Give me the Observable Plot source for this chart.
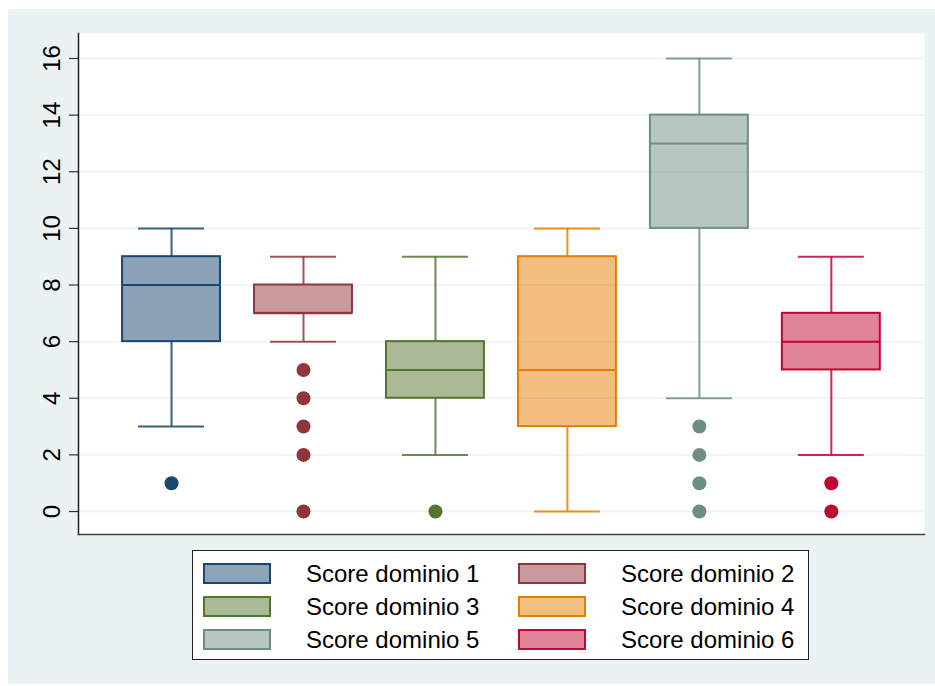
<!DOCTYPE html>
<html>
<head>
<meta charset="utf-8">
<script src="https://cdn.jsdelivr.net/npm/d3@7"></script>
<script src="https://cdn.jsdelivr.net/npm/@observablehq/plot@0.6"></script>
<style>
  body { margin: 0; background: #ffffff; font-family: "Liberation Sans", Arial, sans-serif; }
  #chart { position: absolute; left: 8px; top: 9px; width: 927px; height: 675px; background: #eaf2f3; overflow: hidden; }
  #plot { position: absolute; left: 0; top: 0; }
  #legend { position: absolute; left: 184px; top: 541px; width: 617px; height: 110px; background: #fff;
            border: 1px solid #222; box-sizing: border-box; padding: 6px 0 0 10px;
            display: grid; grid-template-columns: 315px 290px; grid-auto-rows: 33px; }
  .item { display: flex; align-items: center; font-size: 24px; color: #000; }
  .sw { width: 68px; height: 21px; box-sizing: border-box; border: 2px solid; margin-right: 35px; }
</style>
</head>
<body>
<div id="chart"><div id="plot"></div><div id="legend"></div></div>
<script>
const domains = ["Score dominio 1", "Score dominio 2", "Score dominio 3", "Score dominio 4", "Score dominio 5", "Score dominio 6"];
const lowerWhisker = [3, 6, 2, 0, 4, 2];
const q1 = [6, 7, 4, 3, 10, 5];
const median = [8, 7, 5, 5, 13, 6];
const q3 = [9, 8, 6, 9, 14, 7];
const upperWhisker = [10, 9, 9, 10, 16, 9];
const outliers = [[1], [5, 4, 3, 2, 0], [0], [], [3, 2, 1, 0], [1, 0]];
const colors = ["#1a476f", "#90353b", "#55752f", "#e37e00", "#6e8e84", "#c10534"];
const yTicks = [0, 2, 4, 6, 8, 10, 12, 14, 16];

const boxHalf = 0.371, capHalf = 0.25;
const rows = domains.map((d, i) => ({
  name: d, pos: i + 1, lo: lowerWhisker[i], q1: q1[i], med: median[i], q3: q3[i], hi: upperWhisker[i], color: colors[i]
}));
const outRows = outliers.flatMap((arr, i) => arr.map(v => ({pos: i + 1, v, color: colors[i]})));

const plot = Plot.plot({
  width: 927,
  height: 540,
  marginLeft: 70,
  marginTop: 24,
  marginRight: 11,
  marginBottom: 15,
  style: {background: "transparent", fontFamily: "'Liberation Sans', Arial, sans-serif", overflow: "visible"},
  x: {domain: [0.295, 6.706], axis: null},
  y: {domain: [-0.812, 16.883], axis: null},
  marks: [
    Plot.frame({fill: "white", stroke: null}),
    Plot.ruleY(yTicks, {stroke: "#eaf2f3", strokeWidth: 1.5}),
    // whiskers
    Plot.ruleX(rows, {x: "pos", y1: "lo", y2: "q1", stroke: "color", strokeWidth: 2, strokeOpacity: 0.85}),
    Plot.ruleX(rows, {x: "pos", y1: "q3", y2: "hi", stroke: "color", strokeWidth: 2, strokeOpacity: 0.85}),
    // caps
    Plot.ruleY(rows, {y: "lo", x1: d => d.pos - capHalf, x2: d => d.pos + capHalf, stroke: "color", strokeWidth: 2, strokeOpacity: 0.85}),
    Plot.ruleY(rows, {y: "hi", x1: d => d.pos - capHalf, x2: d => d.pos + capHalf, stroke: "color", strokeWidth: 2, strokeOpacity: 0.85}),
    // boxes
    Plot.rect(rows, {x1: d => d.pos - boxHalf, x2: d => d.pos + boxHalf, y1: "q1", y2: "q3",
      fill: "color", fillOpacity: 0.5, stroke: "color", strokeWidth: 2}),
    // medians
    Plot.ruleY(rows, {y: "med", x1: d => d.pos - boxHalf, x2: d => d.pos + boxHalf, stroke: "color", strokeWidth: 2}),
    // outliers
    Plot.dot(outRows, {x: "pos", y: "v", r: 7, fill: "color", stroke: null}),
    // axes
    Plot.frame({anchor: "left", stroke: "#222", strokeWidth: 1.5}),
    Plot.frame({anchor: "bottom", stroke: "#444", strokeWidth: 1.5}),
    Plot.axisY(yTicks, {tickSize: 9, tickRotate: -90, fontSize: 24, tickPadding: 10, stroke: "#333", color: "#000", strokeWidth: 1.2})
  ]
});
document.getElementById("plot").appendChild(plot);

const legend = document.getElementById("legend");
rows.forEach(r => {
  const item = document.createElement("div");
  item.className = "item";
  const sw = document.createElement("div");
  sw.className = "sw";
  sw.style.borderColor = r.color;
  sw.style.background = d3.interpolateRgb(r.color, "#ffffff")(0.5);
  const t = document.createElement("span");
  t.textContent = r.name;
  item.appendChild(sw);
  item.appendChild(t);
  legend.appendChild(item);
});
</script>
</body>
</html>
